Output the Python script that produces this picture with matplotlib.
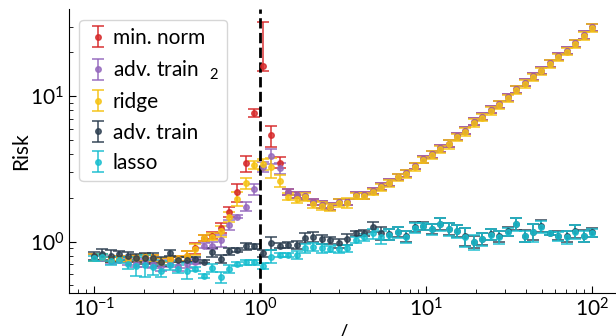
#!/usr/bin/env python3
import numpy as np
import matplotlib
matplotlib.use('Agg')
import matplotlib.pyplot as plt

# p/n ratio grid (60 points, 0.1 .. 100)
ratio = [0.1, 0.1124, 0.1264, 0.1421, 0.1598, 0.1796, 0.2019, 0.2270, 0.2552, 0.2869,
         0.3225, 0.3626, 0.4076, 0.4582, 0.5151, 0.5791, 0.6510, 0.7318, 0.8228, 0.9249,
         1.0398, 1.1689, 1.3141, 1.4773, 1.6608, 1.8670, 2.0989, 2.3596, 2.6527, 2.9822,
         3.3525, 3.7689, 4.2371, 4.7634, 5.3550, 6.0201, 6.7678, 7.6084, 8.5534, 9.6157,
         10.810, 12.153, 13.662, 15.359, 17.267, 19.411, 21.822, 24.533, 27.580, 31.006,
         34.857, 39.187, 44.054, 49.525, 55.677, 62.592, 70.367, 79.107, 88.933, 100.0]

minnorm = [.78, .78, .76, .77, .76, .77, .78, .77, .73, .76,
           .76, .80, .90, 1.06, 1.10, 1.24, 1.60, 2.18, 3.46, 7.7,
           16.2, 5.4, 3.5, 2.2, 2.09, 2.06, 1.88, 1.80, 1.74, 1.88,
           1.88, 2.08, 2.08, 2.24, 2.40, 2.55, 2.80, 2.96, 3.32, 3.70,
           3.98, 4.38, 4.73, 5.29, 5.79, 6.67, 7.22, 8.07, 8.83, 9.82,
           11.15, 12.4, 13.7, 15.0, 16.9, 18.8, 20.6, 23.2, 26.4, 29.8]
minnorm_lo = [.04, .04, .03, .03, .03, .04, .04, .04, .04, .03,
              .04, .06, .08, .05, .06, .10, .12, .30, .45, .5,
              1.2, .9, .3, .1, .1, .12, .1, .1, .1, .1,
              .1, .1, .1, .11, .12, .13, .14, .16, .18, .2,
              .22, .24, .26, .28, .32, .36, .4, .45, .5, .55,
              .6, .7, .75, .85, .95, 1.05, 1.15, 1.3, 1.5, 1.7]
minnorm_hi = [.04, .04, .03, .03, .03, .04, .04, .04, .04, .03,
              .04, .06, .08, .05, .06, .10, .12, .30, .45, .5,
              16.0, .85, .3, .1, .1, .12, .1, .1, .1, .1,
              .1, .1, .1, .11, .12, .13, .14, .16, .18, .2,
              .22, .24, .26, .28, .32, .36, .4, .45, .5, .55,
              .6, .7, .75, .85, .95, 1.05, 1.15, 1.3, 1.5, 1.7]

adv_l2 = [.78, .77, .74, .75, .73, .71, .72, .70, .68, .71,
          .68, .70, .73, .94, .94, 1.02, 1.31, 1.49, 1.74, 2.29,
          3.28, 3.88, 3.2, 2.19, 2.09, 2.06, 1.88, 1.80, 1.74, 1.88,
          1.88, 2.08, 2.08, 2.24, 2.40, 2.55, 2.80, 2.96, 3.32, 3.70,
          3.98, 4.38, 4.73, 5.29, 5.79, 6.67, 7.22, 8.07, 8.83, 9.82,
          11.15, 12.4, 13.7, 15.0, 16.9, 18.8, 20.6, 23.2, 26.4, 29.8]
adv_l2_err = [.04, .03, .04, .03, .04, .04, .05, .04, .05, .04,
              .05, .04, .03, .04, .05, .10, .10, .04, .12, .2,
              .25, .45, .3, .1, .1, .12, .1, .1, .1, .1,
              .1, .1, .1, .11, .12, .13, .14, .16, .18, .2,
              .22, .24, .26, .28, .32, .36, .4, .45, .5, .55,
              .6, .7, .75, .85, .95, 1.05, 1.15, 1.3, 1.5, 1.7]

ridge = [.78, .78, .76, .77, .76, .77, .78, .77, .73, .76,
         .76, .80, .89, 1.06, 1.08, 1.18, 1.49, 1.97, 2.52, 3.37,
         3.40, 3.25, 2.62, 2.04, 1.96, 2.03, 1.81, 1.76, 1.72, 1.85,
         1.85, 2.06, 2.06, 2.21, 2.37, 2.52, 2.77, 2.92, 3.28, 3.65,
         3.93, 4.32, 4.67, 5.22, 5.71, 6.58, 7.12, 7.96, 8.71, 9.69,
         11.0, 12.2, 13.5, 14.8, 16.7, 18.5, 20.3, 22.9, 26.0, 29.4]
ridge_err = [.04, .04, .03, .03, .03, .04, .04, .04, .04, .03,
             .04, .06, .08, .05, .06, .10, .12, .22, .2, .2,
             .3, .5, .25, .12, .12, .12, .1, .1, .1, .13,
             .14, .1, .1, .1, .13, .14, .15, .18, .2, .2,
             .25, .25, .3, .3, .35, .4, .4, .5, .55, .55,
             .7, .75, .8, .9, 1.0, 1.1, 1.2, 1.4, 1.5, 1.8]

adv_linf = [.80, .82, .80, .82, .80, .77, .77, .77, .73, .84,
            .75, .75, .76, .73, .85, .76, .86, .88, .93, .93,
            .83, .98, .94, .95, .95, 1.06, 1.08, 1.04, 1.02, .98,
            1.04, 1.14, 1.15, 1.27, 1.15, 1.13, 1.17, 1.09, 1.26, 1.29,
            1.23, 1.33, 1.23, 1.19, 1.09, 1.00, 1.05, 1.13, 1.09, 1.18,
            1.33, 1.10, 1.17, 1.28, 1.14, 1.10, 1.09, 1.18, 1.10, 1.16]
adv_linf_err = [.05, .07, .07, .04, .05, .05, .07, .06, .05, .04,
                .03, .03, .03, .02, .06, .05, .05, .03, .05, .04,
                .05, .10, .04, .04, .06, .08, .08, .08, .05, .07,
                .09, .05, .06, .10, .12, .10, .10, .10, .10, .08,
                .10, .12, .12, .12, .15, .10, .10, .10, .10, .08,
                .13, .10, .15, .12, .03, .08, .10, .12, .10, .08]

lasso = [.77, .78, .74, .75, .70, .68, .69, .67, .63, .69,
         .65, .63, .65, .58, .66, .57, .65, .70, .72, .72,
         .68, .79, .81, .81, .81, .90, .92, .90, .89, .89,
         .90, 1.03, 1.07, 1.14, 1.08, 1.12, 1.16, 1.08, 1.25, 1.28,
         1.22, 1.32, 1.22, 1.18, 1.08, 1.00, 1.04, 1.12, 1.08, 1.17,
         1.32, 1.09, 1.16, 1.27, 1.14, 1.09, 1.08, 1.17, 1.09, 1.15]
lasso_err = [.03, .04, .05, .04, .05, .10, .12, .08, .06, .05,
             .04, .08, .02, .02, .04, .05, .04, .02, .03, .03,
             .03, .08, .03, .03, .05, .06, .06, .07, .04, .06,
             .05, .05, .06, .09, .11, .10, .10, .10, .10, .07,
             .10, .13, .12, .12, .16, .12, .10, .10, .11, .08,
             .14, .10, .17, .12, .02, .08, .11, .13, .10, .08]

plt.rcParams['font.family'] = ['Lato', 'DejaVu Sans']
plt.rcParams['mathtext.fontset'] = 'custom'
plt.rcParams['mathtext.rm'] = 'Lato'
plt.rcParams['mathtext.it'] = 'Lato:italic'
plt.rcParams['font.size'] = 15

fig = plt.figure(figsize=(6.16, 3.36), dpi=100)
ax = fig.add_axes([69 / 616, (336 - 292.7) / 336, (617 - 69) / 616, (292.7 - 9.3) / 336])

series = [
    ('min. norm', minnorm, [minnorm_lo, minnorm_hi], '#d62728'),
    ('adv. train  $_2$', adv_l2, adv_l2_err, '#9467bd'),
    ('ridge', ridge, ridge_err, '#f5c211'),
    ('adv. train', adv_linf, adv_linf_err, '#2c3e50'),
    ('lasso', lasso, lasso_err, '#17becf'),
]
for label, vals, err, color in series:
    ax.errorbar(ratio, vals, yerr=err, fmt='o', ms=4, color=color, alpha=0.8,
                capsize=4, elinewidth=1.3, capthick=1.3, label=label)

ax.axvline(1, color='k', ls='--', lw=2)

ax.set_xscale('log')
ax.set_yscale('log')
ax.set_xlim(10 ** -1.15, 10 ** 2.15)
ax.set_ylim(0.446, 39.6)
ax.spines['right'].set_visible(False)
ax.spines['top'].set_visible(False)
ax.tick_params(which='both', direction='in')
ax.tick_params(which='major', length=5)
ax.tick_params(which='minor', length=3)
ax.set_xlabel('/', labelpad=2)
ax.set_ylabel('Risk', labelpad=-1)

ax.legend(loc='upper left', handlelength=1.0, handletextpad=0.2,
          borderaxespad=0.5)

plt.savefig('out.png', dpi=100)
